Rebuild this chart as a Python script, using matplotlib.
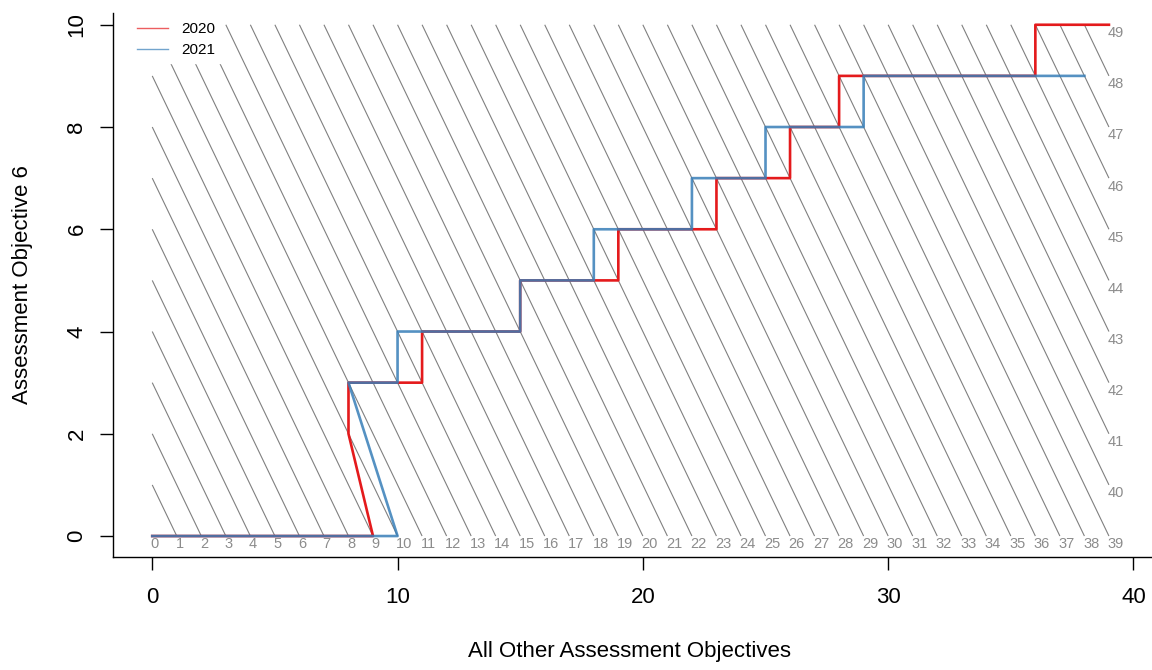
import matplotlib
matplotlib.use("Agg")
import matplotlib.pyplot as plt
from matplotlib.lines import Line2D

plt.rcParams['font.family'] = ['Liberation Sans', 'DejaVu Sans']

# ---- data ----
x_2020 = [0, 9, 8, 8, 11, 11, 15, 15, 19, 19, 23, 23, 26, 26, 28, 28, 36, 36, 39]
y_2020 = [0, 0, 2, 3, 3, 4, 4, 5, 5, 6, 6, 7, 7, 8, 8, 9, 9, 10, 10]
x_2021 = [0, 10, 8, 10, 10, 15, 15, 18, 18, 22, 22, 25, 25, 29, 29, 38]
y_2021 = [0, 0, 3, 3, 4, 4, 5, 5, 6, 6, 7, 7, 8, 8, 9, 9]
totals = list(range(0, 50))          # iso-total lines x + y = k
x_max, y_max = 39, 10
x_ticks = [0, 10, 20, 30, 40]
y_ticks = [0, 2, 4, 6, 8, 10]
series_names = ["2020", "2021"]
series_colors = ["#E41A1C", "#377EB8"]

W, H = 1152, 670
fig = plt.figure(figsize=(W / 100, H / 100), dpi=100)
ax = fig.add_axes([113 / W, (H - 557) / H, (1158 - 113) / W, 544 / H])
ax.set_xlim(-1.6, 41.0)
ax.set_ylim(-0.41, 10.23)

# iso-total lines and their labels
for k in totals:
    x0, y0 = min(k, x_max), max(0, k - x_max)
    x1, y1 = max(0, k - y_max), min(k, y_max)
    ax.plot([x0, x1], [y0, y1], color="#808080", lw=0.8, zorder=1,
            solid_capstyle="butt")
    ax.annotate(str(k), (x0, y0), xytext=(-1, -1), textcoords="offset points",
                ha="left", va="top", fontsize=10.5, color="#8c8c8c", zorder=2)

ax.plot(x_2020, y_2020, color=series_colors[0], lw=1.9, zorder=3)
ax.plot(x_2021, y_2021, color=series_colors[1], lw=1.9, alpha=0.85, zorder=4)

handles = [Line2D([], [], color=c, lw=1.0, alpha=0.7) for c in series_colors]
leg = ax.legend(handles, series_names, loc="upper left",
                bbox_to_anchor=(18 / 1045, 1 - 3 / 544), frameon=True,
                facecolor="white", edgecolor="white", framealpha=1,
                fancybox=False, fontsize=11, handlelength=2.0,
                handletextpad=0.9, labelspacing=0.45, borderpad=0.4,
                borderaxespad=0.0)
leg.set_zorder(5)

# axes styling (R-like)
for s in ["top", "right"]:
    ax.spines[s].set_visible(False)
for s in ["left", "bottom"]:
    ax.spines[s].set_linewidth(1.0)
    ax.spines[s].set_color("black")

ax.set_xticks(x_ticks)
ax.set_yticks(y_ticks)
ax.set_xticklabels([str(t) for t in x_ticks])
ax.set_yticklabels([str(t) for t in y_ticks], rotation=90, va="center")
ax.tick_params(axis="both", direction="out", length=9.4, width=1.0,
               labelsize=16, colors="black")
ax.tick_params(axis="x", pad=12)
ax.tick_params(axis="y", pad=9)

ax.set_xlabel("All Other Assessment Objectives", fontsize=16)
ax.set_ylabel("Assessment Objective 6", fontsize=16)
ax.xaxis.set_label_coords((630 - 113) / 1045, -(641 - 557) / 544)
ax.yaxis.set_label_coords(-(113 - 33) / 1045, (557 - 285) / 544)

fig.savefig("out.png", dpi=100)
